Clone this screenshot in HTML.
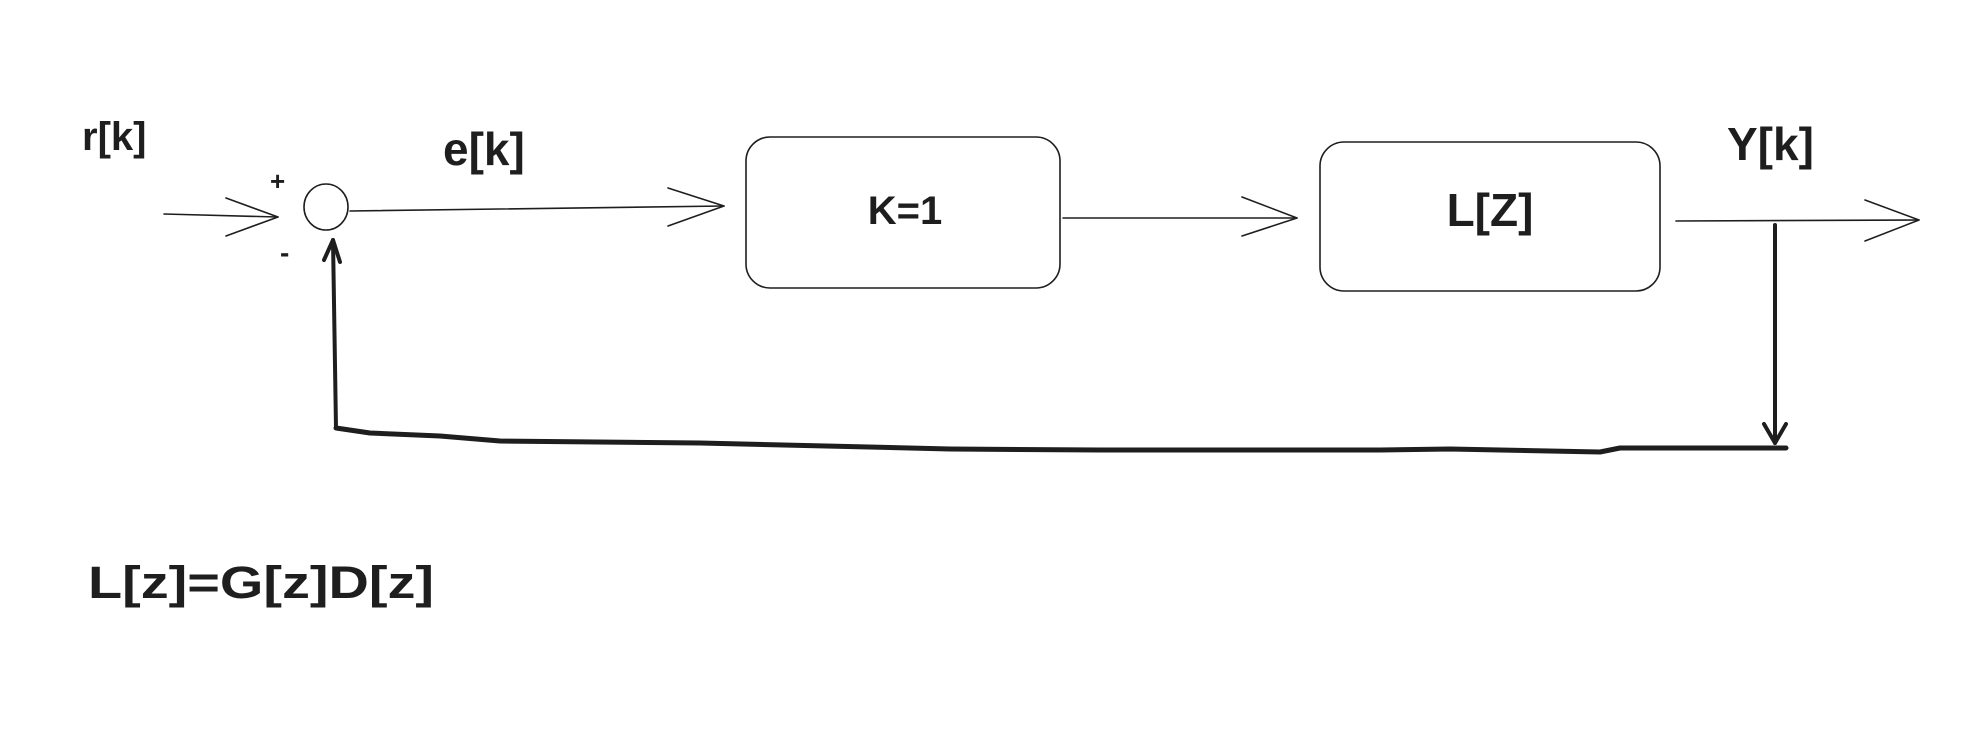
<!DOCTYPE html>
<html><head><meta charset="utf-8"><style>
html,body{margin:0;padding:0;background:#fff;}
svg{display:block}
text{font-family:"Liberation Sans",sans-serif;fill:#1e1e1e;font-weight:bold}
</style></head><body>
<svg width="1984" height="752" viewBox="0 0 1984 752" xmlns="http://www.w3.org/2000/svg">
<g fill="none" stroke="#1e1e1e" stroke-linecap="round" stroke-linejoin="round">
<!-- input arrow -->
<path d="M164 214 L278 217" stroke-width="1.6"/>
<path d="M226 198 L278 217 L226 236" stroke-width="1.6"/>
<!-- summing circle -->
<ellipse cx="326" cy="207" rx="22" ry="23" stroke-width="1.6"/>
<!-- e arrow -->
<path d="M350 211 L724 206" stroke-width="1.6"/>
<path d="M668 188 L724 206 L668 226" stroke-width="1.6"/>
<!-- box1 -->
<rect x="746" y="137" width="314" height="151" rx="24" stroke-width="1.6"/>
<!-- arrow box1->box2 -->
<path d="M1063 218 L1297 218" stroke-width="1.6"/>
<path d="M1242 197 L1297 218 L1242 236" stroke-width="1.6"/>
<!-- box2 -->
<rect x="1320" y="142" width="340" height="149" rx="24" stroke-width="1.6"/>
<!-- output arrow -->
<path d="M1676 221 L1919 220" stroke-width="1.6"/>
<path d="M1865 200 L1919 220 L1865 241" stroke-width="1.6"/>
<!-- feedback -->
<path d="M1775 225 L1775 443" stroke-width="4"/>
<path d="M1764 424 L1775 443 L1786 424" stroke-width="4"/>
<path d="M1786 448 L1620 448 L1600 452 L1450 449 L1380 450 L1100 450 L950 449 L700 443 L500 441 L440 436 L370 433 L336 428" stroke-width="5"/>
<path d="M336 428 L333 240" stroke-width="4"/>
<path d="M324 260 L333 240 L340 262" stroke-width="4"/>
</g>
<text x="82" y="150" font-size="40">r[k]</text>
<text x="443" y="165" font-size="46">e[k]</text>
<text x="270" y="190" font-size="26">+</text>
<text x="280" y="262" font-size="28">-</text>
<text x="905" y="224" font-size="40" text-anchor="middle">K=1</text>
<text x="1490" y="226" font-size="46" text-anchor="middle">L[Z]</text>
<text x="1727" y="160" font-size="46">Y[k]</text>
<text x="88" y="598" font-size="45" textLength="346" lengthAdjust="spacingAndGlyphs">L[z]=G[z]D[z]</text>
</svg>
</body></html>
